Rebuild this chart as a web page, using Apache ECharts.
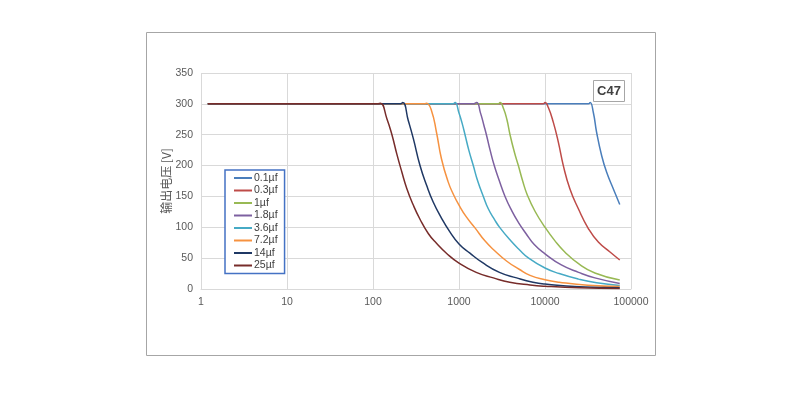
<!DOCTYPE html>
<html>
<head>
<meta charset="utf-8">
<script src="https://cdn.jsdelivr.net/npm/echarts@6/dist/echarts.min.js"></script>
<style>html,body{margin:0;padding:0;background:#fff}#c{width:800px;height:411px}</style>
</head>
<body>
<div id="c"></div>
<script>
const seriesNames = ['0.1µf', '0.3µf', '1µf', '1.8µf', '3.6µf', '7.2µf', '14µf', '25µf'];
const seriesColors = ['#4A7EBB', '#BE4B48', '#98B954', '#7D60A0', '#46AAC5', '#F69240', '#1F3864', '#772C2A'];
const xTicks = [1, 10, 100, 1000, 10000, 100000];

const d_01 = [[1.2,300],[32000,300],[33500,302],[36480,286],[39810,254],[45600,216],[52120,189],[62370,162],[74000,137]];
const d_03 = [[1.2,300],[9500,300],[10000,302],[10940,294],[12500,270],[14290,238],[16330,200],[19500,162],[24430,130],[31920,98],[41690,76],[57020,60],[74000,47]];
const d_1 = [[1.2,300],[2850,300],[3000,302],[3300,292],[3600,275],[3920,250],[4400,222],[4900,200],[5500,175],[6240,152],[7650,126],[10000,100],[13060,78],[16980,60],[24550,41],[38020,26],[74000,14.5]];
const d_18 = [[1.2,300],[1450,300],[1600,302],[1780,285],[1950,265],[2100,248],[2300,225],[2570,200],[2950,175],[3430,150],[4100,127],[4900,108],[6000,90],[7500,72],[10000,57],[15490,39],[24550,27],[38020,18],[74000,9]];
const d_36 = [[1.2,300],[850,300],[900,302],[1000,285],[1080,270],[1175,250],[1300,225],[1466,200],[1650,175],[1919,150],[2190,130],[2600,112],[3000,99],[4000,78],[5000,64],[6460,50],[10000,34],[14620,25],[24550,16],[39810,10],[74000,5.5]];
const d_72 = [[1.2,300],[400,300],[420,301],[479,289],[547,254],[625,211],[746,174],[870,152],[1000,136],[1200,118],[1535,99],[2000,78],[2600,62],[3600,45],[5000,32],[6700,22],[10000,15],[14620,11],[31620,6],[74000,4]];
const d_14 = [[1.2,300],[205,300],[222,302],[257,273],[294,244],[352,200],[420,168],[501,141],[625,115],[780,93],[1000,73],[1340,58],[1862,43],[2951,27],[4677,18],[7244,11],[10000,8],[25000,3.5],[74000,2]];
const d_25 = [[1.2,300],[112,300],[122,301],[145,276],[166,250],[189,219],[216,190],[247,163],[294,136],[352,113],[439,90],[547,74],[714,58],[1000,42],[1585,27],[2512,18],[3890,11],[6700,6.5],[10000,4.5],[25000,2],[74000,1]];
const seriesData = [d_01, d_03, d_1, d_18, d_36, d_72, d_14, d_25];

const chart = echarts.init(document.getElementById('c'));
const gridColor = '#D9D9D9';
const labelColor = '#595959';
chart.setOption({
  animation: false,
  backgroundColor: '#fff',
  graphic: [
    {type: 'rect', shape: {x: 146.5, y: 32.5, width: 509, height: 323}, style: {fill: 'none', stroke: '#A6A6A6', lineWidth: 1}, z: -1},
    {type: 'rect', shape: {x: 593.5, y: 80.5, width: 31, height: 21}, style: {fill: '#fff', stroke: '#A6A6A6', lineWidth: 1}, z: 10},
    {type: 'text', x: 609, y: 91, style: {text: 'C47', font: 'bold 13px "Liberation Sans", sans-serif', fill: '#404040', textAlign: 'center', textVerticalAlign: 'middle'}, z: 11}
  ],
  grid: {left: 201, right: 169, top: 73, bottom: 122},
  legend: {
    data: seriesNames,
    orient: 'vertical',
    left: 225, top: 170,
    padding: [2, 7, 2, 9],
    itemGap: 0.5,
    itemWidth: 18, itemHeight: 2,
    icon: 'rect',
    borderColor: '#4472C4', borderWidth: 1.5,
    backgroundColor: '#fff',
    textStyle: {fontSize: 10.5, color: '#404040', fontFamily: '"Liberation Sans", sans-serif', lineHeight: 12, padding: [0, 0, 0, -3]}
  },
  xAxis: {
    type: 'log', logBase: 10, min: 1, max: 100000,
    axisLine: {show: true, lineStyle: {color: gridColor}},
    axisTick: {show: false},
    splitLine: {show: true, lineStyle: {color: gridColor}},
    axisLabel: {color: labelColor, fontSize: 10.5, fontFamily: '"Liberation Sans", sans-serif', margin: 8, showMinLabel: true, showMaxLabel: true,
      formatter: v => String(Math.round(v))}
  },
  yAxis: {
    type: 'value', min: 0, max: 350, interval: 50,
    name: '输出电压 [V]', nameLocation: 'middle', nameRotate: 90, nameGap: 29, nameMoveOverlap: false,
    nameTextStyle: {color: labelColor, fontSize: 12, fontFamily: '"Noto Sans CJK SC", sans-serif'},
    axisLine: {show: false},
    axisTick: {show: false},
    splitLine: {show: true, lineStyle: {color: gridColor}},
    axisLabel: {color: labelColor, fontSize: 10.5, fontFamily: '"Liberation Sans", sans-serif', margin: 8}
  },
  series: seriesNames.map((n, i) => ({
    name: n, type: 'line', data: seriesData[i],
    showSymbol: false, smooth: 0.5,
    lineStyle: {width: 1.5, color: seriesColors[i]},
    itemStyle: {color: seriesColors[i]}
  }))
});
</script>
</body>
</html>
